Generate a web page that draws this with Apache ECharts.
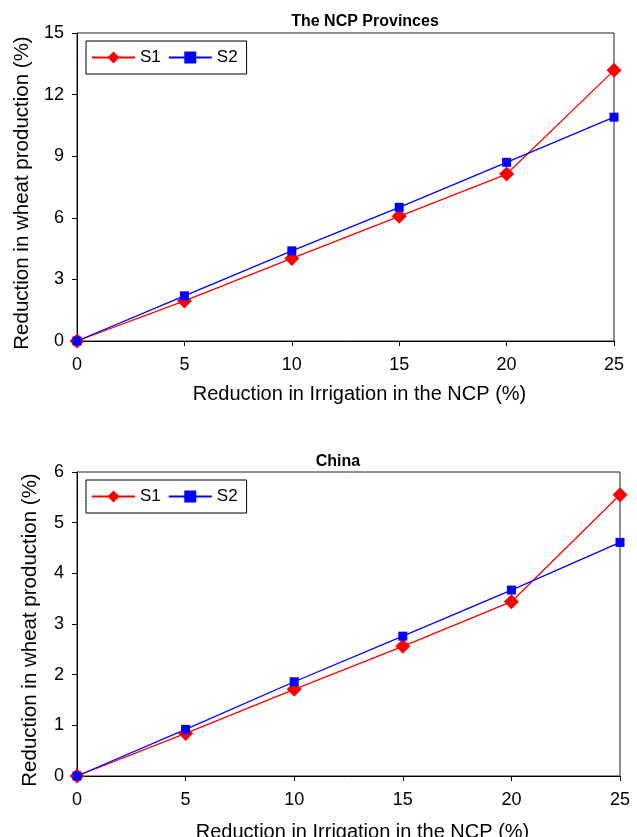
<!DOCTYPE html>
<html><head><meta charset="utf-8">
<script src="https://cdn.jsdelivr.net/npm/echarts@6/dist/echarts.min.js"></script>
<style>html,body{margin:0;padding:0;background:#fff}#c{width:637px;height:837px}</style>
</head><body><div id="c"></div>
<script>
const irrigation = [0, 5, 10, 15, 20, 25];
const ncpS1 = [0, 1.95, 4.02, 6.07, 8.13, 13.18];
const ncpS2 = [0, 2.2, 4.39, 6.51, 8.70, 10.9];
const chinaS1 = [0, 0.84, 1.71, 2.56, 3.44, 5.55];
const chinaS2 = [0, 0.92, 1.86, 2.76, 3.67, 4.61];
const titles = ['The NCP Provinces', 'China'];
const xName = 'Reduction in Irrigation in the NCP (%)';
const yName = 'Reduction in wheat production (%)';

const pair = (ys) => irrigation.map((x, i) => [x, ys[i]]);
const font = 'Liberation Sans, Arial, sans-serif';
const grids = [
  {left: 77, top: 33, width: 537, height: 308},
  {left: 77, top: 472, width: 543, height: 304}
];
const yGaps = [44, 36];
const xGaps = [43, 46];
const xAxis = grids.map((g, i) => ({
  gridIndex: i, type: 'value', min: 0, max: 25, interval: 5,
  name: xName, nameLocation: 'middle', nameGap: xGaps[i],
  nameTextStyle: {fontFamily: font, fontSize: 20, color: '#000', padding: [0, 0, 0, 28]},
  axisLine: {lineStyle: {color: '#000', width: 1}},
  axisTick: {show: true, length: 5, lineStyle: {color: '#000'}},
  axisLabel: {fontFamily: font, fontSize: 18, color: '#000', margin: 15},
  splitLine: {show: false}
}));
const yAxis = [
  {gridIndex: 0, min: 0, max: 15, interval: 3},
  {gridIndex: 1, min: 0, max: 6, interval: 1}
].map((a, i) => Object.assign({
  type: 'value',
  name: yName, nameLocation: 'middle', nameGap: yGaps[i],
  nameTextStyle: {fontFamily: font, fontSize: 20.5, color: '#000', padding: [0, 12, 0, 0]},
  axisLine: {show: true, lineStyle: {color: '#000', width: 1}},
  axisTick: {show: true, length: 5, lineStyle: {color: '#000'}},
  axisLabel: {fontFamily: font, fontSize: 18, color: '#000', margin: 13},
  splitLine: {show: false}
}, a));
const mk = (name, data, idx, color, symbol, size) => ({
  name, type: 'line', xAxisIndex: idx, yAxisIndex: idx, data: pair(data),
  symbol, symbolSize: size, lineStyle: {color, width: 1.3}, itemStyle: {color},
  animation: false
});
const legends = grids.map((g, i) => ({
  data: ['S1', 'S2'], left: 86, top: g.top + 8,
  borderColor: '#000', borderWidth: 1, borderRadius: 0,
  padding: [8, 9, 8, 5], itemGap: 7, itemWidth: 43, itemHeight: 15,
  textStyle: {fontFamily: font, fontSize: 17, color: '#000'}
}));
const chart = echarts.init(document.getElementById('c'));
chart.setOption({
  backgroundColor: '#fff',
  title: [
    {text: titles[0], left: 360, top: 9, textAlign: 'center', textStyle: {fontFamily: font, fontSize: 16, fontWeight: 'bold', color: '#000'}},
    {text: titles[1], left: 333, top: 449, textAlign: 'center', textStyle: {fontFamily: font, fontSize: 16, fontWeight: 'bold', color: '#000'}}
  ],
  grid: grids.map(g => Object.assign({show: true, borderColor: '#222', borderWidth: 1, backgroundColor: 'transparent', containLabel: false, outerBoundsMode: 'none'}, g)),
  legend: legends,
  xAxis, yAxis,
  series: [
    mk('S1', ncpS1, 0, '#ff0000', 'diamond', 15),
    mk('S2', ncpS2, 0, '#0000ff', 'rect', 9),
    mk('S1', chinaS1, 1, '#ff0000', 'diamond', 15),
    mk('S2', chinaS2, 1, '#0000ff', 'rect', 9)
  ]
});
</script></body></html>
